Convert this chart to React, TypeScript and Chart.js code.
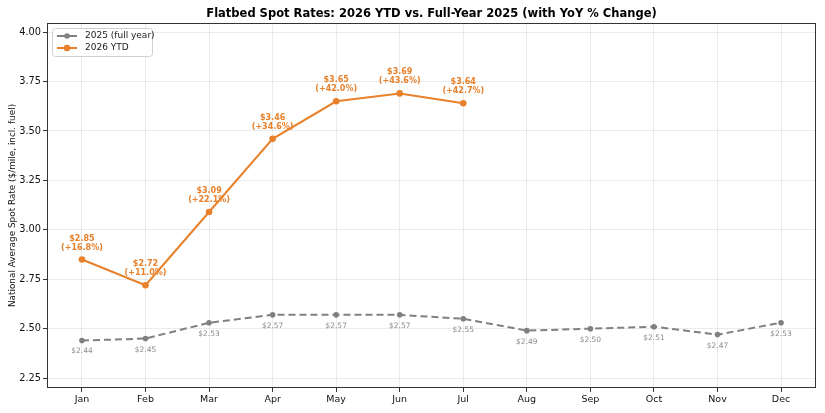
import React, { useEffect, useRef } from "react";
import { Chart, registerables } from "chart.js";

Chart.register(...registerables);

const months = ["Jan", "Feb", "Mar", "Apr", "May", "Jun", "Jul", "Aug", "Sep", "Oct", "Nov", "Dec"];
const rates2025 = [2.44, 2.45, 2.53, 2.57, 2.57, 2.57, 2.55, 2.49, 2.5, 2.51, 2.47, 2.53];
const rates2026 = [2.85, 2.72, 3.09, 3.46, 3.65, 3.69, 3.64];
const yoy2026 = [16.8, 11.0, 22.1, 34.6, 42.0, 43.6, 42.7];
const yTicks = [2.25, 2.5, 2.75, 3.0, 3.25, 3.5, 3.75, 4.0];

const TITLE = "Flatbed Spot Rates: 2026 YTD vs. Full-Year 2025 (with YoY % Change)";
const Y_TITLE = "National Average Spot Rate ($/mile, incl. fuel)";
const FONT = "'DejaVu Sans', sans-serif";
const ORANGE = "#e8812c";
const GRAY = "#808080";

export default function App() {
  const ref = useRef<HTMLCanvasElement | null>(null);
  useEffect(() => {
    if (!ref.current) return;
    const overlay = {
      id: "overlay",
      afterDraw(chart: any) {
        const ctx = chart.ctx;
        const ca = chart.chartArea;
        const xs = chart.scales.x;
        const ys = chart.scales.y;
        ctx.save();
        // frame
        ctx.strokeStyle = "#333";
        ctx.lineWidth = 1;
        ctx.strokeRect(ca.left + 0.5, ca.top + 0.5, ca.right - ca.left - 1, ca.bottom - ca.top - 1);
        // title
        ctx.fillStyle = "#000";
        ctx.font = `bold 11.5px ${FONT}`;
        ctx.textAlign = "center";
        ctx.textBaseline = "middle";
        ctx.fillText(TITLE, (ca.left + ca.right) / 2, 14);
        // y title
        ctx.save();
        ctx.translate(13, (ca.top + ca.bottom) / 2);
        ctx.rotate(-Math.PI / 2);
        ctx.font = `8.9px ${FONT}`;
        ctx.fillStyle = "#111";
        ctx.fillText(Y_TITLE, 0, 0);
        ctx.restore();
        // gray annotations
        ctx.font = `7.5px ${FONT}`;
        ctx.fillStyle = "#8a8a8a";
        rates2025.forEach((v, i) => {
          ctx.fillText("$" + v.toFixed(2), xs.getPixelForValue(i), ys.getPixelForValue(v) + 11);
        });
        // orange annotations
        ctx.font = `bold 8px ${FONT}`;
        ctx.fillStyle = ORANGE;
        rates2026.forEach((v, i) => {
          const px = xs.getPixelForValue(i);
          const py = ys.getPixelForValue(v);
          ctx.fillText("$" + v.toFixed(2), px, py - 21);
          ctx.fillText("(+" + yoy2026[i].toFixed(1) + "%)", px, py - 12);
        });
        // legend
        const lx = ca.left + 5, ly = ca.top + 5, lw = 100, lh = 28;
        ctx.fillStyle = "rgba(255,255,255,0.85)";
        ctx.strokeStyle = "#d0d0d0";
        ctx.lineWidth = 1;
        ctx.beginPath();
        (ctx as any).roundRect ? (ctx as any).roundRect(lx + 0.5, ly + 0.5, lw, lh, 3) : ctx.rect(lx + 0.5, ly + 0.5, lw, lh);
        ctx.fill();
        ctx.stroke();
        const entries = chart.data.datasets.map((d: any) => ({ label: d.label, color: d.borderColor, r: d.pointRadius }));
        entries.forEach((e: any, k: number) => {
          const yy = ly + 8 + k * 12;
          ctx.strokeStyle = e.color;
          ctx.lineWidth = 2;
          ctx.beginPath();
          ctx.moveTo(lx + 5, yy);
          ctx.lineTo(lx + 25, yy);
          ctx.stroke();
          ctx.fillStyle = e.color;
          ctx.beginPath();
          ctx.arc(lx + 15, yy, e.r, 0, Math.PI * 2);
          ctx.fill();
          ctx.fillStyle = "#222";
          ctx.font = `9px ${FONT}`;
          ctx.textAlign = "left";
          ctx.fillText(e.label, lx + 33, yy);
        });
        ctx.restore();
      },
    };
    const chart = new Chart(ref.current, {
      type: "line",
      data: {
        datasets: [
          {
            label: "2025 (full year)",
            data: rates2025.map((v, i) => ({ x: i, y: v })),
            borderColor: GRAY,
            backgroundColor: GRAY,
            borderWidth: 2,
            borderDash: [7, 4],
            pointRadius: 2.8,
            pointBorderWidth: 0,
            tension: 0,
          },
          {
            label: "2026 YTD",
            data: rates2026.map((v, i) => ({ x: i, y: v })),
            borderColor: ORANGE,
            backgroundColor: ORANGE,
            borderWidth: 2,
            pointRadius: 3.3,
            pointBorderWidth: 0,
            tension: 0,
          },
        ],
      },
      options: {
        animation: false,
        responsive: false,
        layout: { padding: { left: 0, top: 23, right: 9, bottom: 0 } },
        plugins: { legend: { display: false }, title: { display: false }, tooltip: { enabled: false } },
        scales: {
          x: {
            type: "linear",
            min: -0.55,
            max: 11.55,
            afterBuildTicks: (s: any) => {
              s.ticks = months.map((_, i) => ({ value: i }));
            },
            afterFit: (s: any) => {
              s.height = 25;
            },
            ticks: {
              callback: (v: any) => months[v] ?? "",
              color: "#111",
              font: { family: FONT, size: 9.5 },
              padding: 2,
              maxRotation: 0,
              autoSkip: false,
            },
            grid: { color: "rgba(0,0,0,0.08)", tickColor: "#333", tickLength: 4 },
            border: { display: false },
          },
          y: {
            min: 2.2,
            max: 4.046,
            afterBuildTicks: (s: any) => {
              s.ticks = yTicks.map((v) => ({ value: v }));
            },
            afterFit: (s: any) => {
              s.width = 47;
            },
            ticks: {
              callback: (v: any) => Number(v).toFixed(2),
              color: "#111",
              font: { family: FONT, size: 9.8 },
              padding: 2,
            },
            grid: { color: "rgba(0,0,0,0.08)", tickColor: "#333", tickLength: 4 },
            border: { display: false },
          },
        },
      },
      plugins: [overlay],
    });
    return () => chart.destroy();
  }, []);
  return (
    <div style={{ position: "fixed", left: 0, top: 0, width: 825, height: 413, background: "#fff" }}>
      <canvas ref={ref} width={825} height={413} style={{ width: 825, height: 413 }} />
    </div>
  );
}
